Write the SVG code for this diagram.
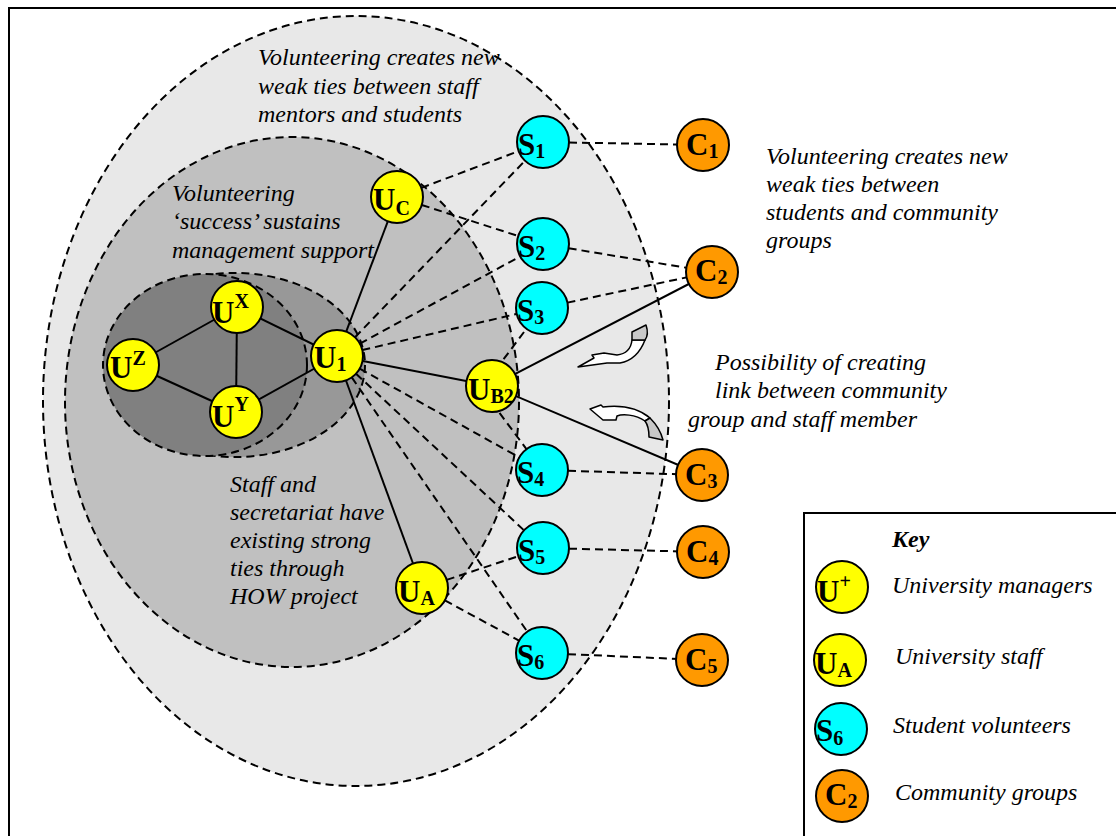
<svg xmlns="http://www.w3.org/2000/svg" width="1116" height="836" viewBox="0 0 1116 836">
  <style>
    .zone { stroke: #000; stroke-width: 2; stroke-dasharray: 8 5; }
    .solid { stroke: #000; stroke-width: 2; fill: none; }
    .dash { stroke: #000; stroke-width: 2; stroke-dasharray: 8 5; fill: none; }
    .node { stroke: #000; stroke-width: 2; }
    .u { fill: #ffff00; }
    .s { fill: #00ffff; }
    .c { fill: #ff9900; }
    .lbl { font-family: "Liberation Serif", "Times New Roman", serif; font-weight: bold; font-size: 31px; fill: #000; }
    .lbl tspan.sm { font-size: 20px; }
    .note { font-family: "Liberation Serif", "Times New Roman", serif; font-style: italic; font-size: 24px; fill: #000; }
    .keyhead { font-family: "Liberation Serif", "Times New Roman", serif; font-style: italic; font-weight: bold; font-size: 24px; fill: #000; }
    .frame { stroke: #000; stroke-width: 2; fill: none; }
    .arrow { fill: #fff; stroke: #000; stroke-width: 1.5; stroke-linejoin: round; }
    .arrow-back { fill: #c8c8c8; stroke: #000; stroke-width: 1.5; stroke-linejoin: round; }
  </style>

  <rect width="1116" height="836" fill="#fff"/>

  <!-- page frame -->
  <path class="frame" d="M 9,836 L 9,8 L 1116,8"/>

  <!-- nested tie zones -->
  <g id="zones">
    <ellipse class="zone" cx="356" cy="401" rx="313" ry="385" fill="#e8e8e8"/>
    <ellipse class="zone" cx="292" cy="402" rx="227" ry="265" fill="#c0c0c0"/>
    <ellipse class="zone" cx="235" cy="365" rx="130" ry="92" fill="#989898"/>
    <ellipse class="zone" cx="205" cy="365" rx="102" ry="91" fill="#808080"/>
  </g>

  <!-- annotations -->
  <g id="notes">
    <text class="note" x="258" y="65">Volunteering creates new</text>
    <text class="note" x="258" y="94">weak ties between staff</text>
    <text class="note" x="258" y="122">mentors and students</text>

    <text class="note" x="172" y="201">Volunteering</text>
    <text class="note" x="172" y="229">‘success’ sustains</text>
    <text class="note" x="172" y="258">management support</text>

    <text class="note" x="230" y="492">Staff and</text>
    <text class="note" x="230" y="520">secretariat have</text>
    <text class="note" x="230" y="548">existing strong</text>
    <text class="note" x="230" y="576">ties through</text>
    <text class="note" x="230" y="604">HOW project</text>

    <text class="note" x="766" y="164">Volunteering creates new</text>
    <text class="note" x="766" y="192">weak ties between</text>
    <text class="note" x="766" y="220">students and community</text>
    <text class="note" x="766" y="248">groups</text>

    <text class="note" x="715" y="370">Possibility of creating</text>
    <text class="note" x="715" y="398">link between community</text>
    <text class="note" x="688" y="427">group and staff member</text>
  </g>

  <!-- connectors -->
  <g id="connectors">
    <!-- strong ties -->
    <line class="solid" x1="133" y1="365" x2="237" y2="307"/>
    <line class="solid" x1="133" y1="365" x2="236" y2="412"/>
    <line class="solid" x1="237" y1="307" x2="236" y2="412"/>
    <line class="solid" x1="237" y1="307" x2="337" y2="356"/>
    <line class="solid" x1="236" y1="412" x2="337" y2="356"/>
    <line class="solid" x1="337" y1="356" x2="397" y2="197"/>
    <line class="solid" x1="337" y1="356" x2="422" y2="588"/>
    <line class="solid" x1="337" y1="356" x2="492" y2="386"/>
    <line class="solid" x1="492" y1="386" x2="712" y2="272"/>
    <line class="solid" x1="492" y1="386" x2="702" y2="475"/>
    <!-- weak ties: staff to students -->
    <line class="dash" x1="337" y1="356" x2="543" y2="142"/>
    <line class="dash" x1="337" y1="356" x2="543" y2="244"/>
    <line class="dash" x1="337" y1="356" x2="542" y2="308"/>
    <line class="dash" x1="337" y1="356" x2="542" y2="470"/>
    <line class="dash" x1="337" y1="356" x2="543" y2="548"/>
    <line class="dash" x1="337" y1="356" x2="542" y2="653"/>
    <line class="dash" x1="397" y1="197" x2="543" y2="142"/>
    <line class="dash" x1="397" y1="197" x2="543" y2="244"/>
    <line class="dash" x1="488" y1="380" x2="542" y2="308"/>
    <line class="dash" x1="484" y1="392" x2="542" y2="470"/>
    <line class="dash" x1="422" y1="588" x2="543" y2="548"/>
    <line class="dash" x1="422" y1="588" x2="542" y2="653"/>
    <!-- weak ties: students to community groups -->
    <line class="dash" x1="543" y1="142" x2="703" y2="145"/>
    <line class="dash" x1="543" y1="244" x2="712" y2="272"/>
    <line class="dash" x1="542" y1="308" x2="712" y2="272"/>
    <line class="dash" x1="542" y1="470" x2="702" y2="475"/>
    <line class="dash" x1="543" y1="548" x2="703" y2="552"/>
    <line class="dash" x1="542" y1="653" x2="702" y2="660"/>
  </g>

  <!-- curved arrows: possible new link -->
  <g id="arrow-upper">
    <path class="arrow" d="M 632,340 C 631,349 626,354 617,355 L 604,353 L 592,355 L 594,358 L 578,367 L 607,363 L 620,363 C 631,361 640,353 645,340 Z"/>
    <path class="arrow-back" d="M 632,332 L 646,325 C 648,331 648,336 645,340 L 632,340 Z"/>
  </g>
  <g id="arrow-lower">
    <path class="arrow" d="M 590,409 L 601,405 L 603,407 C 620,405 637,407 650,418 L 645,421 C 635,414 622,414 617,416 L 616,420 L 603,420 Z"/>
    <path class="arrow-back" d="M 645,421 L 650,418 C 656,424 661,432 663,440 L 649,437 C 649,430 648,425 645,421 Z"/>
  </g>

  <!-- university managers -->
  <g id="UZ">
    <circle class="node u" cx="133" cy="365" r="26"/>
    <text class="lbl" x="110" y="378">U<tspan class="sm" dy="-13">Z</tspan></text>
  </g>
  <g id="UX">
    <circle class="node u" cx="237" cy="307" r="26"/>
    <text class="lbl" x="212" y="323">U<tspan class="sm" dy="-15">X</tspan></text>
  </g>
  <g id="UY">
    <circle class="node u" cx="236" cy="412" r="26"/>
    <text class="lbl" x="212" y="427">U<tspan class="sm" dy="-16">Y</tspan></text>
  </g>

  <!-- university staff -->
  <g id="U1">
    <circle class="node u" cx="337" cy="356" r="26"/>
    <text class="lbl" x="314" y="368">U<tspan class="sm" dy="3">1</tspan></text>
  </g>
  <g id="UC">
    <circle class="node u" cx="397" cy="197" r="26"/>
    <text class="lbl" x="373" y="210">U<tspan class="sm" dy="5">C</tspan></text>
  </g>
  <g id="UB2">
    <circle class="node u" cx="492" cy="386" r="26"/>
    <text class="lbl" x="468" y="400">U<tspan class="sm" dy="3">B2</tspan></text>
  </g>
  <g id="UA">
    <circle class="node u" cx="422" cy="588" r="26"/>
    <text class="lbl" x="398" y="602">U<tspan class="sm" dy="3">A</tspan></text>
  </g>

  <!-- student volunteers -->
  <g id="S1">
    <circle class="node s" cx="543" cy="142" r="26"/>
    <text class="lbl" x="518" y="155">S<tspan class="sm" dy="3">1</tspan></text>
  </g>
  <g id="S2">
    <circle class="node s" cx="543" cy="244" r="26"/>
    <text class="lbl" x="518" y="257">S<tspan class="sm" dy="3">2</tspan></text>
  </g>
  <g id="S3">
    <circle class="node s" cx="542" cy="308" r="26"/>
    <text class="lbl" x="517" y="321">S<tspan class="sm" dy="3">3</tspan></text>
  </g>
  <g id="S4">
    <circle class="node s" cx="542" cy="470" r="26"/>
    <text class="lbl" x="517" y="483">S<tspan class="sm" dy="3">4</tspan></text>
  </g>
  <g id="S5">
    <circle class="node s" cx="543" cy="548" r="26"/>
    <text class="lbl" x="518" y="561">S<tspan class="sm" dy="3">5</tspan></text>
  </g>
  <g id="S6">
    <circle class="node s" cx="542" cy="653" r="26"/>
    <text class="lbl" x="517" y="666">S<tspan class="sm" dy="3">6</tspan></text>
  </g>

  <!-- community groups -->
  <g id="C1">
    <circle class="node c" cx="703" cy="145" r="26"/>
    <text class="lbl" x="686" y="155">C<tspan class="sm" dy="3">1</tspan></text>
  </g>
  <g id="C2">
    <circle class="node c" cx="712" cy="272" r="26"/>
    <text class="lbl" x="695" y="281">C<tspan class="sm" dy="3">2</tspan></text>
  </g>
  <g id="C3">
    <circle class="node c" cx="702" cy="475" r="26"/>
    <text class="lbl" x="685" y="485">C<tspan class="sm" dy="3">3</tspan></text>
  </g>
  <g id="C4">
    <circle class="node c" cx="703" cy="552" r="26"/>
    <text class="lbl" x="686" y="562">C<tspan class="sm" dy="3">4</tspan></text>
  </g>
  <g id="C5">
    <circle class="node c" cx="702" cy="660" r="26"/>
    <text class="lbl" x="685" y="670">C<tspan class="sm" dy="3">5</tspan></text>
  </g>

  <!-- legend -->
  <g id="key">
    <path class="frame" d="M 804,836 L 804,513 L 1116,513"/>
    <text class="keyhead" x="892" y="547">Key</text>
    <circle class="node u" cx="842" cy="587" r="26"/>
    <text class="lbl" x="817" y="602">U<tspan class="sm" dy="-14">+</tspan></text>
    <text class="note" x="892" y="593">University managers</text>
    <circle class="node u" cx="840" cy="660" r="26"/>
    <text class="lbl" x="815" y="674">U<tspan class="sm" dy="3">A</tspan></text>
    <text class="note" x="895" y="664">University staff</text>
    <circle class="node s" cx="841" cy="729" r="26"/>
    <text class="lbl" x="816" y="741">S<tspan class="sm" dy="4">6</tspan></text>
    <text class="note" x="893" y="733">Student volunteers</text>
    <circle class="node c" cx="842" cy="796" r="26"/>
    <text class="lbl" x="825" y="805">C<tspan class="sm" dy="3">2</tspan></text>
    <text class="note" x="895" y="800">Community groups</text>
  </g>
</svg>
